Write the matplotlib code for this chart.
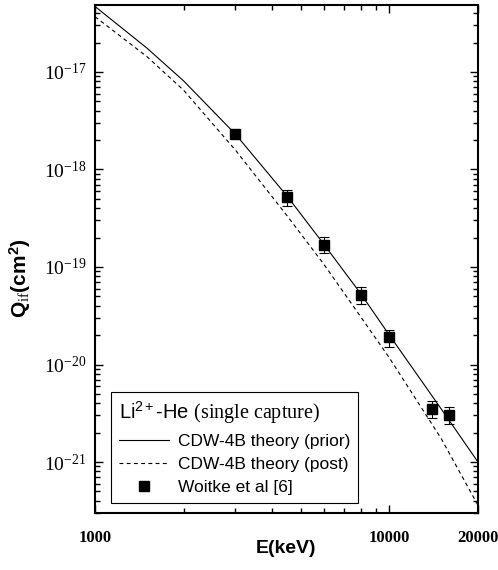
import matplotlib
matplotlib.use("Agg")
import matplotlib.pyplot as plt
from matplotlib.ticker import LogLocator, NullFormatter, FixedLocator

plt.rcParams['font.family'] = ['Liberation Serif', 'DejaVu Serif']
plt.rcParams['mathtext.fontset'] = 'custom'
plt.rcParams['mathtext.rm'] = 'Liberation Serif'
plt.rcParams['mathtext.it'] = 'Liberation Serif:italic'
plt.rcParams['mathtext.bf'] = 'Liberation Sans:bold'
plt.rcParams['mathtext.sf'] = 'Liberation Sans'

# CDW-4B theory curves
E_theory = [1000, 1500, 2000, 3000, 4500, 6000, 8000, 10000, 15000, 20000]
Q_prior = [4.7e-17, 1.76e-17, 8.1e-18, 2.3e-18, 5.3e-19, 1.7e-19, 5.3e-20,
           2.0e-20, 3.5e-21, 1.0e-21]
Q_post = [3.69e-17, 1.44e-17, 6.5e-18, 1.58e-18, 3.33e-19, 1.06e-19, 3.07e-20,
          1.17e-20, 1.74e-21, 3.6e-22]

# Woitke et al [6]
E_exp = [3000, 4500, 6000, 8000, 10000, 14000, 16000]
Q_exp = [2.3e-18, 5.2e-19, 1.7e-19, 5.2e-20, 1.9e-20, 3.5e-21, 3.05e-21]
Q_err = [0.18e-18, 1.0e-19, 0.32e-19, 1.0e-20, 0.38e-20, 0.7e-21, 0.58e-21]

fig = plt.figure(figsize=(4.98, 5.70), dpi=100)
ax = fig.add_axes([0.1908, 0.1, 0.769, 0.8912])

ax.plot(E_theory, Q_prior, color='black', lw=0.8, label='CDW-4B theory (prior)')
ax.plot(E_theory, Q_post, color='black', lw=0.8, dashes=(3.5, 3),
        label='CDW-4B theory (post)')
ax.errorbar(E_exp, Q_exp, yerr=Q_err, fmt='none', ecolor='black', elinewidth=0.8,
            capsize=3.5, capthick=0.8)
ax.plot(E_exp, Q_exp, 's', color='black', markersize=7.5, label='Woitke et al [6]')

ax.set_xscale('log')
ax.set_yscale('log')
ax.set_xlim(1000, 20000)
ax.set_ylim(3.0e-22, 4.86e-17)

ax.xaxis.set_major_locator(FixedLocator([1000, 10000, 20000]))
ax.set_xticklabels(['1000', '10000', '20000'], fontweight='bold', fontsize=12)
ax.xaxis.set_minor_locator(FixedLocator([2000, 3000, 4000, 5000, 6000, 7000, 8000, 9000]))
ax.xaxis.set_minor_formatter(NullFormatter())
ax.yaxis.set_major_locator(LogLocator(base=10, numticks=20))
ax.yaxis.set_minor_locator(LogLocator(base=10, subs=range(2, 10), numticks=20))
ax.yaxis.set_minor_formatter(NullFormatter())

ax.tick_params(which='both', direction='in', top=True, right=True, width=1.0)
ax.tick_params(which='major', length=6)
ax.tick_params(which='minor', length=3.5)
ax.tick_params(axis='y', which='major', labelsize=14, pad=6)
ax.tick_params(axis='x', which='major', pad=12)
for s in ax.spines.values():
    s.set_linewidth(1.5)

ax.set_xlabel('E(keV)', fontfamily='Liberation Sans', fontweight='bold', fontsize=14,
              labelpad=-4)
ax.set_ylabel(r'$\mathbf{Q}_{\mathrm{if}}\mathbf{(cm}^{\mathbf{2}}\mathbf{)}$',
              fontsize=15)
ax.yaxis.set_label_coords(-0.162, 0.463)

leg = ax.legend(loc='lower left', bbox_to_anchor=(0.042, 0.0197), borderaxespad=0,
                title=r'Li$^{\mathsf{2+}}$-He $\mathrm{(single\ capture)}$',
                alignment='left', fancybox=False, edgecolor='black', framealpha=1,
                prop={'family': 'Liberation Sans', 'size': 12.5}, handlelength=2.9,
                handletextpad=0.5, labelspacing=0.45, borderpad=0.45)
leg.get_title().set_fontfamily('Liberation Sans')
leg.get_title().set_fontsize(14.5)
leg.get_frame().set_linewidth(0.8)

fig.savefig('out.png', dpi=100)
